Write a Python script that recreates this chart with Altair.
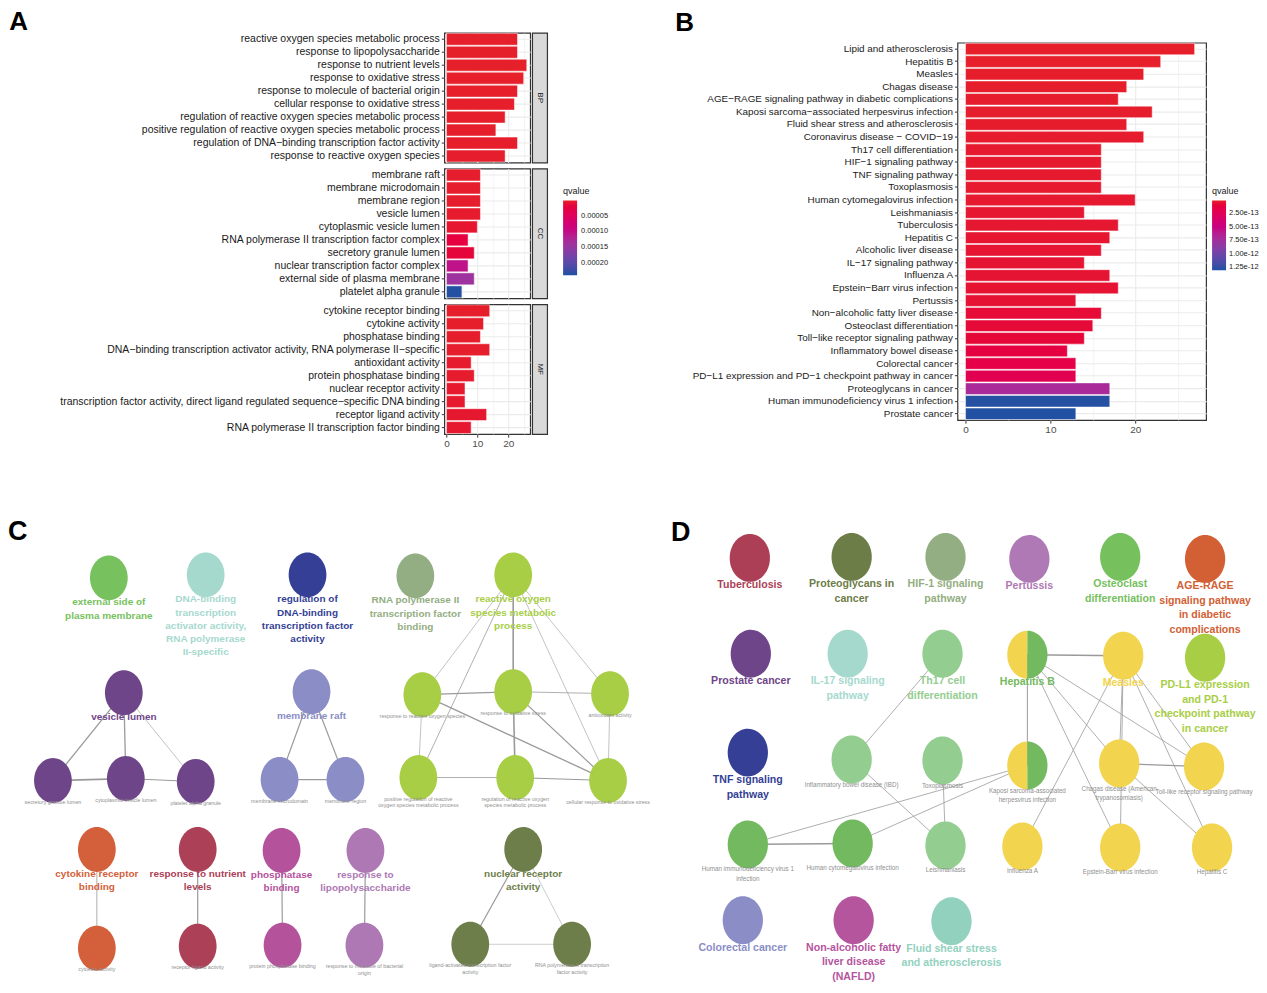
import altair as alt
import pandas as pd

FONT = "Liberation Sans"
M = "\u2212"

# ---------------- Panel A : GO enrichment ----------------
bp_terms = [
    "reactive oxygen species metabolic process",
    "response to lipopolysaccharide",
    "response to nutrient levels",
    "response to oxidative stress",
    "response to molecule of bacterial origin",
    "cellular response to oxidative stress",
    "regulation of reactive oxygen species metabolic process",
    "positive regulation of reactive oxygen species metabolic process",
    f"regulation of DNA{M}binding transcription factor activity",
    "response to reactive oxygen species",
]
bp_counts = [23, 23, 26, 25, 23, 22, 19, 16, 23, 19]
bp_qvalues = [1.8e-6, 1.8e-6, 1.9e-6, 2.1e-6, 2.2e-6, 2.6e-6, 2.7e-6, 3.1e-6, 3.3e-6, 3.4e-6]

cc_terms = [
    "membrane raft",
    "membrane microdomain",
    "membrane region",
    "vesicle lumen",
    "cytoplasmic vesicle lumen",
    "RNA polymerase II transcription factor complex",
    "secretory granule lumen",
    "nuclear transcription factor complex",
    "external side of plasma membrane",
    "platelet alpha granule",
]
cc_counts = [11, 11, 11, 11, 10, 7, 9, 7, 9, 5]
cc_qvalues = [4e-6, 4e-6, 4e-6, 5e-6, 8e-6, 2.2e-5, 1.6e-5, 1.05e-4, 1.42e-4, 2.38e-4]

mf_terms = [
    "cytokine receptor binding",
    "cytokine activity",
    "phosphatase binding",
    f"DNA{M}binding transcription activator activity, RNA polymerase II{M}specific",
    "antioxidant activity",
    "protein phosphatase binding",
    "nuclear receptor activity",
    f"transcription factor activity, direct ligand regulated sequence{M}specific DNA binding",
    "receptor ligand activity",
    "RNA polymerase II transcription factor binding",
]
mf_counts = [14, 12, 11, 14, 8, 9, 6, 6, 13, 8]
mf_qvalues = [3e-6, 3e-6, 4e-6, 4e-6, 5e-6, 5e-6, 6e-6, 6e-6, 7e-6, 7e-6]

ontologies = ["BP", "CC", "MF"]

# ---------------- Panel B : KEGG enrichment ----------------
kegg_terms = [
    "Lipid and atherosclerosis", "Hepatitis B", "Measles", "Chagas disease",
    f"AGE{M}RAGE signaling pathway in diabetic complications",
    f"Kaposi sarcoma{M}associated herpesvirus infection",
    "Fluid shear stress and atherosclerosis",
    f"Coronavirus disease {M} COVID{M}19",
    "Th17 cell differentiation", f"HIF{M}1 signaling pathway", "TNF signaling pathway",
    "Toxoplasmosis", "Human cytomegalovirus infection", "Leishmaniasis", "Tuberculosis",
    "Hepatitis C", "Alcoholic liver disease", f"IL{M}17 signaling pathway", "Influenza A",
    f"Epstein{M}Barr virus infection", "Pertussis", f"Non{M}alcoholic fatty liver disease",
    "Osteoclast differentiation", f"Toll{M}like receptor signaling pathway",
    "Inflammatory bowel disease", "Colorectal cancer",
    f"PD{M}L1 expression and PD{M}1 checkpoint pathway in cancer",
    "Proteoglycans in cancer", "Human immunodeficiency virus 1 infection", "Prostate cancer",
]
kegg_counts = [27, 23, 21, 19, 18, 22, 19, 21, 16, 16, 16, 16, 20, 14, 18,
               17, 16, 14, 17, 18, 13, 16, 15, 14, 12, 13, 13, 17, 17, 13]
kegg_qvalues = [1.0e-14, 1.1e-14, 1.5e-14, 1.7e-14, 1.8e-14, 2.0e-14, 2.3e-14, 2.4e-14,
                2.9e-14, 3.0e-14, 3.1e-14, 3.3e-14, 3.4e-14, 3.9e-14, 4.0e-14, 4.2e-14,
                4.6e-14, 4.9e-14, 5.0e-14, 5.2e-14, 5.5e-14, 7.0e-14, 7.4e-14, 8.1e-14,
                1.25e-13, 1.55e-13, 2.1e-13, 7.1e-13, 1.29e-12, 1.30e-12]

# ---------------- Panel C : GO network ----------------
c_terms = [
    "external side of plasma membrane",
    "DNA-binding transcription activator activity, RNA polymerase II-specific",
    "regulation of DNA-binding transcription factor activity",
    "RNA polymerase II transcription factor binding",
    "reactive oxygen species metabolic process",
    "vesicle lumen",
    "membrane raft",
    "response to reactive oxygen species",
    "response to oxidative stress",
    "antioxidant activity",
    "secretory granule lumen",
    "cytoplasmic vesicle lumen",
    "platelet alpha granule",
    "membrane microdomain",
    "membrane region",
    "positive regulation of reactive oxygen species metabolic process",
    "regulation of reactive oxygen species metabolic process",
    "cellular response to oxidative stress",
    "cytokine receptor binding",
    "response to nutrient levels",
    "phosphatase binding",
    "response to lipopolysaccharide",
    "nuclear receptor activity",
    "cytokine activity",
    "receptor ligand activity",
    "protein phosphatase binding",
    "response to molecule of bacterial origin",
    "ligand-activated transcription factor activity",
    "RNA polymerase II transcription factor activity",
]
c_labels = [
    "external side of\nplasma membrane",
    "DNA-binding\ntranscription\nactivator activity,\nRNA polymerase\nII-specific",
    "regulation of\nDNA-binding\ntranscription factor\nactivity",
    "RNA polymerase II\ntranscription factor\nbinding",
    "reactive oxygen\nspecies metabolic\nprocess",
    "vesicle lumen",
    "membrane raft",
    "response to reactive oxygen species",
    "response to oxidative stress",
    "antioxidant activity",
    "secretory granule lumen",
    "cytoplasmic vesicle lumen",
    "platelet alpha granule",
    "membrane microdomain",
    "membrane region",
    "positive regulation of reactive\noxygen species metabolic process",
    "regulation of reactive oxygen\nspecies metabolic process",
    "cellular response to oxidative stress",
    "cytokine receptor\nbinding",
    "response to nutrient\nlevels",
    "phosphatase\nbinding",
    "response to\nlipopolysaccharide",
    "nuclear receptor\nactivity",
    "cytokine activity",
    "receptor ligand activity",
    "protein phosphatase binding",
    "response to molecule of bacterial\norigin",
    "ligand-activated transcription factor\nactivity",
    "RNA polymerase II transcription\nfactor activity",
]
c_roles = ["lead"] * 7 + ["member"] * 11 + ["lead"] * 5 + ["member"] * 6
c_node_groups = [0, 1, 2, 3, 4, 5, 6, 4, 4, 4, 5, 5, 5, 6, 6, 4, 4, 4,
                 7, 8, 9, 10, 11, 7, 8, 9, 10, 11, 11]
c_group_names = ["external side", "DNA-binding activator", "regulation DNA-binding",
                 "RNA pol II binding", "ROS metabolic", "vesicle lumen", "membrane raft",
                 "cytokine receptor", "nutrient levels", "phosphatase", "lipopolysaccharide",
                 "nuclear receptor"]
c_group_colors = ["#78C15F", "#A6D9CE", "#343F95", "#93AE82", "#A8CE46", "#6F4589",
                  "#8A8DC6", "#D3603A", "#AC4056", "#B5529C", "#AE78B4", "#6D7E4A"]
# network layout coordinates (Cytoscape layout units)
c_layout_x = [109, 206, 308, 416, 514, 124, 312, 423, 514, 611, 53, 126, 196, 280, 346,
              419, 516, 609, 97, 198, 282, 366, 524, 97, 198, 283, 365, 471, 573]
c_layout_y = [579, 576, 576, 577, 576, 694, 693, 696, 693, 695, 782, 780, 783, 781, 781,
              779, 779, 782, 851, 851, 852, 852, 851, 950, 948, 947, 947, 946, 946]
c_edges = [
    ("vesicle lumen", "secretory granule lumen", 1.3),
    ("vesicle lumen", "cytoplasmic vesicle lumen", 1.3),
    ("vesicle lumen", "platelet alpha granule", 0.6),
    ("secretory granule lumen", "cytoplasmic vesicle lumen", 1.8),
    ("cytoplasmic vesicle lumen", "platelet alpha granule", 1.0),
    ("membrane raft", "membrane microdomain", 1.2),
    ("membrane raft", "membrane region", 1.2),
    ("membrane microdomain", "membrane region", 1.2),
    ("reactive oxygen species metabolic process", "response to reactive oxygen species", 0.6),
    ("reactive oxygen species metabolic process", "response to oxidative stress", 1.6),
    ("reactive oxygen species metabolic process", "antioxidant activity", 0.6),
    ("reactive oxygen species metabolic process", "positive regulation of reactive oxygen species metabolic process", 0.8),
    ("reactive oxygen species metabolic process", "cellular response to oxidative stress", 0.6),
    ("response to reactive oxygen species", "response to oxidative stress", 1.3),
    ("response to oxidative stress", "antioxidant activity", 0.8),
    ("response to reactive oxygen species", "cellular response to oxidative stress", 1.3),
    ("response to oxidative stress", "cellular response to oxidative stress", 1.2),
    ("response to oxidative stress", "regulation of reactive oxygen species metabolic process", 1.6),
    ("response to reactive oxygen species", "positive regulation of reactive oxygen species metabolic process", 0.6),
    ("positive regulation of reactive oxygen species metabolic process", "regulation of reactive oxygen species metabolic process", 0.8),
    ("regulation of reactive oxygen species metabolic process", "cellular response to oxidative stress", 1.0),
    ("antioxidant activity", "cellular response to oxidative stress", 0.6),
    ("cytokine receptor binding", "cytokine activity", 0.8),
    ("response to nutrient levels", "receptor ligand activity", 1.2),
    ("phosphatase binding", "protein phosphatase binding", 1.2),
    ("response to lipopolysaccharide", "response to molecule of bacterial origin", 1.2),
    ("nuclear receptor activity", "ligand-activated transcription factor activity", 1.2),
    ("nuclear receptor activity", "RNA polymerase II transcription factor activity", 0.5),
    ("ligand-activated transcription factor activity", "RNA polymerase II transcription factor activity", 0.5),
]

# ---------------- Panel D : KEGG network ----------------
d_terms = [
    "Tuberculosis", "Proteoglycans in cancer", "HIF-1 signaling pathway", "Pertussis",
    "Osteoclast differentiation", "AGE-RAGE signaling pathway in diabetic complications",
    "Prostate cancer", "IL-17 signaling pathway", "Th17 cell differentiation", "Hepatitis B",
    "Measles", "PD-L1 expression and PD-1 checkpoint pathway in cancer",
    "TNF signaling pathway", "Inflammatory bowel disease (IBD)", "Toxoplasmosis",
    "Kaposi sarcoma-associated herpesvirus infection",
    "Chagas disease (American trypanosomiasis)", "Toll-like receptor signaling pathway",
    "Human immunodeficiency virus 1 infection", "Human cytomegalovirus infection",
    "Leishmaniasis", "Influenza A", "Epstein-Barr virus infection", "Hepatitis C",
    "Colorectal cancer", "Non-alcoholic fatty liver disease (NAFLD)",
    "Fluid shear stress and atherosclerosis",
]
d_labels = [
    "Tuberculosis", "Proteoglycans in\ncancer", "HIF-1 signaling\npathway", "Pertussis",
    "Osteoclast\ndifferentiation", "AGE-RAGE\nsignaling pathway\nin diabetic\ncomplications",
    "Prostate cancer", "IL-17 signaling\npathway", "Th17 cell\ndifferentiation", "Hepatitis B",
    "Measles", "PD-L1 expression\nand PD-1\ncheckpoint pathway\nin cancer",
    "TNF signaling\npathway", "Inflammatory bowel disease (IBD)", "Toxoplasmosis",
    "Kaposi sarcoma-associated\nherpesvirus infection",
    "Chagas disease (American\ntrypanosomiasis)", "Toll-like receptor signaling pathway",
    "Human immunodeficiency virus 1\ninfection", "Human cytomegalovirus infection",
    "Leishmaniasis", "Influenza A", "Epstein-Barr virus infection", "Hepatitis C",
    "Colorectal cancer", "Non-alcoholic fatty\nliver disease\n(NAFLD)",
    "Fluid shear stress\nand atherosclerosis",
]
d_roles = ["lead"] * 13 + ["member"] * 11 + ["lead"] * 3
d_group_names = ["Tuberculosis", "Proteoglycans", "HIF-1", "Pertussis", "Osteoclast",
                 "AGE-RAGE", "Prostate cancer", "IL-17", "Th17", "Hepatitis B", "Measles",
                 "PD-L1", "TNF", "Colorectal cancer", "NAFLD", "Fluid shear stress"]
d_group_colors = ["#AC3F55", "#6D7D48", "#93AE82", "#AE79B4", "#76C05E", "#D35F35",
                  "#6F4589", "#A6D9CE", "#93CD90", "#73B960", "#F2D44E", "#A8CE46",
                  "#343F95", "#8A8DC6", "#B5559D", "#93D1BF"]
d_node_groups = [0, 1, 2, 3, 4, 5, 6, 7, 8, 9, 10, 11, 12, 8, 8, 9, 10, 10,
                 9, 9, 8, 10, 10, 10, 13, 14, 15]
# nodes shared by two clusters: drawn half Measles-group, half Hepatitis B-group
d_split_nodes = ["Hepatitis B", "Kaposi sarcoma-associated herpesvirus infection"]
d_split_groups = [10, 9]
d_layout_x = [751, 853, 947, 1031, 1122, 1207, 752, 849, 944, 1029, 1125, 1207, 749, 853,
              944, 1029, 1121, 1206, 749, 854, 947, 1024, 1122, 1214, 744, 855, 953]
d_layout_y = [559, 558, 558, 560, 558, 560, 655, 655, 655, 656, 657, 659, 754, 761, 762,
              767, 765, 768, 846, 845, 847, 848, 849, 849, 922, 922, 923]
d_edges = [
    ("Hepatitis B", "Measles", 1.6),
    ("Hepatitis B", "Kaposi sarcoma-associated herpesvirus infection", 1.0),
    ("Hepatitis B", "Chagas disease (American trypanosomiasis)", 0.8),
    ("Hepatitis B", "Epstein-Barr virus infection", 0.8),
    ("Hepatitis B", "Toll-like receptor signaling pathway", 0.8),
    ("Measles", "Chagas disease (American trypanosomiasis)", 0.8),
    ("Measles", "Epstein-Barr virus infection", 0.8),
    ("Measles", "Influenza A", 0.8),
    ("Measles", "Hepatitis C", 0.8),
    ("Measles", "Toll-like receptor signaling pathway", 0.8),
    ("Chagas disease (American trypanosomiasis)", "Toll-like receptor signaling pathway", 1.2),
    ("Chagas disease (American trypanosomiasis)", "Hepatitis C", 0.8),
    ("Th17 cell differentiation", "Inflammatory bowel disease (IBD)", 0.8),
    ("Inflammatory bowel disease (IBD)", "Leishmaniasis", 0.8),
    ("Toxoplasmosis", "Leishmaniasis", 0.8),
    ("Kaposi sarcoma-associated herpesvirus infection", "Human immunodeficiency virus 1 infection", 0.8),
    ("Kaposi sarcoma-associated herpesvirus infection", "Human cytomegalovirus infection", 0.8),
    ("Human immunodeficiency virus 1 infection", "Human cytomegalovirus infection", 1.4),
]

# panel letters of the network panels, in the same layout units
c_letter = ("C", 8, 533)
d_letter = ("D", 672, 534)

# ---------------- shared styling ----------------
TICKS = [0, 5, 10, 15, 20, 25]
MAJOR = "datum.value % 10 === 0"
SHAPE_FULL = "M0,-1A0.84,1 0 1,1 0,1A0.84,1 0 1,1 0,-1Z"
SHAPE_LEFT = "M0,-1A0.84,1 0 0,0 0,1Z"
SHAPE_RIGHT = "M0,-1A0.84,1 0 0,1 0,1Z"
RED, BLUE = "#E6202A", "#1E50A1"


def x_axis(show):
    common = dict(values=TICKS, grid=True, gridColor="#EBEBEB",
                  gridWidth={"condition": {"test": MAJOR, "value": 1.1}, "value": 0.6},
                  domain=False, title=None, labelFlush=False)
    if show:
        return alt.Axis(**common, labelExpr=f"{MAJOR} ? datum.label : ''",
                        tickOpacity={"condition": {"test": MAJOR, "value": 1}, "value": 0},
                        tickColor="#333333", tickSize=3, labelColor="#4D4D4D",
                        labelFontSize=10, labelPadding=1)
    return alt.Axis(**common, labels=False, ticks=False)


def y_axis(fs):
    return alt.Axis(title=None, labelFontSize=fs, labelColor="#1A1A1A", labelLimit=700,
                    tickColor="#333333", tickSize=3, labelPadding=2, domain=False,
                    grid=True, gridColor="#EBEBEB", gridWidth=1.1)


def bar_panel(terms, counts, qvals, show_x, width, height, xdom, cscale, legend, fs):
    df = pd.DataFrame({"term": terms, "count": counts, "qvalue": qvals})
    # colour by -qvalue so the colour bar reads small q (red) at the top
    return alt.Chart(df).transform_calculate(negq="-datum.qvalue").mark_bar(
        stroke="white", strokeWidth=0.5).encode(
        y=alt.Y("term:N", sort=terms, axis=y_axis(fs),
                scale=alt.Scale(paddingInner=0.08, paddingOuter=0.04)),
        x=alt.X("count:Q", scale=alt.Scale(domain=xdom, nice=False, zero=False),
                axis=x_axis(show_x)),
        x2=alt.datum(0),
        color=alt.Color("negq:Q", scale=cscale, legend=legend),
    ).properties(width=width, height=height,
                 view=alt.ViewBackground(stroke="#333333", strokeWidth=1.2))


def strip(label, height):
    return alt.Chart(pd.DataFrame({"ontology": [label]})).mark_text(
        angle=90, fontSize=8, font=FONT, color="#1A1A1A"
    ).encode(text="ontology:N").properties(
        width=15, height=height,
        view=alt.ViewBackground(fill="#D9D9D9", stroke="#333333", strokeWidth=1.2))


def spacer(w, h):
    return alt.Chart(pd.DataFrame({"s": [""]})).mark_text().encode(
        text="s:N").properties(width=w, height=h)


def legend(values, fmt, length, lx, ly, offset):
    return alt.Legend(title="qvalue", orient="none", legendX=lx, legendY=ly,
                      values=[-v for v in values],
                      labelExpr=f"format(-datum.value, '{fmt}')",
                      gradientLength=length, gradientThickness=14,
                      gradientStrokeWidth=0, labelFontSize=7.5, titleFontSize=9,
                      titleFontWeight="normal", titleColor="#1A1A1A", labelColor="#1A1A1A",
                      labelOverlap=False, titlePadding=4, labelOffset=offset,
                      direction="vertical")


def q_scale(qmin, qmax):
    return alt.Scale(domain=[-qmax, -qmin], range=[BLUE, RED], interpolate="hcl",
                     nice=False, zero=False)


# ---- A ----
a_scale = q_scale(1.6e-6, 2.41e-4)
a_legend = legend([5e-5, 1e-4, 1.5e-4, 2e-4], ".5f", 75, 119, 155, 4)
A_DOM = [-0.7, 27.1]
a_sets = [(bp_terms, bp_counts, bp_qvalues), (cc_terms, cc_counts, cc_qvalues),
          (mf_terms, mf_counts, mf_qvalues)]
a_charts = []
for i, (t, c, q) in enumerate(a_sets):
    a_charts.append(bar_panel(t, c, q, i == 2, 86, 130, A_DOM, a_scale, a_legend, 10.5))
    a_charts.append(strip(ontologies[i], 130))
A_block = alt.concat(*a_charts, columns=2, align="each", spacing={"row": 4, "column": 0},
                     title=alt.TitleParams("A", anchor="start", dx=-49, offset=-3))
A_col = alt.hconcat(spacer(1, 1), A_block, spacing=0).resolve_scale(
    color="independent").resolve_legend(color="independent")

# ---- B ----
b_scale = q_scale(8e-15, 1.31e-12)
b_legend = legend([2.5e-13, 5e-13, 7.5e-13, 1e-12, 1.25e-12], ".2e", 70, 255, 155, 3)
B_chart = bar_panel(kegg_terms, kegg_counts, kegg_qvalues, True, 249, 378,
                    [-0.95, 28.35], b_scale, b_legend, 9.9)
B_col = alt.vconcat(spacer(10, 1), B_chart, spacing=3,
                    title=alt.TitleParams("B", anchor="start", dx=-17, offset=-9))

top_row = alt.hconcat(A_col, B_col, spacing=66).resolve_scale(
    color="independent").resolve_legend(color="independent")


# ---- networks ----
def network(terms, labels, roles, node_groups, group_names, group_colors, lx, ly,
            edges, split_nodes, split_groups, xdom, ydom, width, height, size,
            lead_fs, lead_lh, lead_dy, mem_fs, mem_lh, mem_dy, letter):
    nodes = pd.DataFrame({"name": terms, "label": labels, "role": roles,
                          "group": [group_names[g] for g in node_groups],
                          "x": lx, "y": ly})
    draw = []
    for _, r in nodes.iterrows():
        if r["name"] in split_nodes:
            draw.append({"x": r["x"], "y": r["y"], "group": group_names[split_groups[0]],
                         "half": "left"})
            draw.append({"x": r["x"], "y": r["y"], "group": group_names[split_groups[1]],
                         "half": "right"})
        else:
            draw.append({"x": r["x"], "y": r["y"], "group": r["group"], "half": "full"})
    draw = pd.DataFrame(draw)
    pos = nodes.set_index("name")
    e = pd.DataFrame([{"x": pos.loc[s, "x"], "y": pos.loc[s, "y"],
                       "x2": pos.loc[t, "x"], "y2": pos.loc[t, "y"], "w": w}
                      for s, t, w in edges])
    xs = alt.Scale(domain=xdom, nice=False, zero=False)
    ys = alt.Scale(domain=ydom, nice=False, zero=False, reverse=True)
    X = alt.X("x:Q", scale=xs, axis=None)
    Y = alt.Y("y:Q", scale=ys, axis=None)
    fill_scale = alt.Scale(domain=group_names, range=group_colors)
    shape_scale = alt.Scale(domain=["full", "left", "right"],
                            range=[SHAPE_FULL, SHAPE_LEFT, SHAPE_RIGHT])
    edge_layer = alt.Chart(e).mark_rule(color="#9A9A9A").encode(
        x=X, y=Y, x2="x2:Q", y2="y2:Q", strokeWidth=alt.StrokeWidth("w:Q", scale=None))
    node_layer = alt.Chart(draw).mark_point(filled=True, size=size, opacity=1,
                                            strokeWidth=0).encode(
        x=X, y=Y, fill=alt.Fill("group:N", scale=fill_scale, legend=None),
        shape=alt.Shape("half:N", scale=shape_scale, legend=None))
    lead_layer = alt.Chart(nodes).transform_filter("datum.role === 'lead'").mark_text(
        font=FONT, fontSize=lead_fs, fontWeight="bold", baseline="top", dy=lead_dy,
        lineBreak="\n", lineHeight=lead_lh).encode(
        x=X, y=Y, text="label:N", fill=alt.Fill("group:N", scale=fill_scale, legend=None))
    mem_layer = alt.Chart(nodes).transform_filter("datum.role === 'member'").mark_text(
        font=FONT, fontSize=mem_fs, color="#8F8F8F", baseline="top", dy=mem_dy,
        lineBreak="\n", lineHeight=mem_lh).encode(x=X, y=Y, text="label:N")
    letter_df = pd.DataFrame({"t": [letter[0]], "x": [letter[1]], "y": [letter[2]]})
    letter_layer = alt.Chart(letter_df).mark_text(
        font=FONT, fontSize=27, fontWeight="bold", color="#000000", align="left",
        baseline="middle").encode(x=X, y=Y, text="t:N")
    return alt.layer(edge_layer, node_layer, lead_layer, mem_layer, letter_layer).properties(
        width=width, height=height)


C_chart = network(c_terms, c_labels, c_roles, c_node_groups, c_group_names, c_group_colors,
                  c_layout_x, c_layout_y, c_edges, [], [0, 0], [8, 660], [510, 983],
                  652, 473, 2025, 10, 13.3, 19.5, 5.3, 7, 19, c_letter)
D_chart = network(d_terms, d_labels, d_roles, d_node_groups, d_group_names, d_group_colors,
                  d_layout_x, d_layout_y, d_edges, d_split_nodes, d_split_groups,
                  [660, 1258], [510, 983], 598, 473, 2304, 10.6, 14.5, 22.5, 6.3, 10, 22,
                  d_letter)

bottom_row = alt.hconcat(C_chart, D_chart, spacing=0).resolve_scale(
    fill="independent", shape="independent")

chart = alt.vconcat(top_row, bottom_row, spacing=60, padding=0).resolve_scale(
    color="independent", fill="independent"
).configure_view(strokeWidth=0).configure_axis(labelFont=FONT).configure_legend(
    titleFont=FONT, labelFont=FONT
).configure_title(font=FONT, fontSize=26, fontWeight="bold", color="#000000")

chart.save("out.html", embed_options={"renderer": "svg", "actions": False})
